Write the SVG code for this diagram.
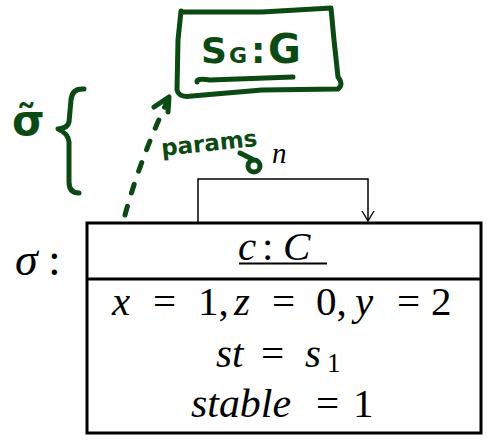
<svg xmlns="http://www.w3.org/2000/svg" width="487" height="443" viewBox="0 0 487 443">
<style>
.g{fill:none;stroke:#0b4a12;stroke-width:5;stroke-linecap:round;stroke-linejoin:round}
.gt{font-family:'DejaVu Sans','Liberation Sans',sans-serif;font-weight:bold;fill:#0b4a12}
</style>
<defs>
<marker id="ah" markerWidth="14" markerHeight="14" refX="11" refY="7" orient="auto" markerUnits="userSpaceOnUse" viewBox="0 0 14 14">
<path d="M1,1 L11,7 L1,13" fill="none" stroke="#000" stroke-width="1.4"/>
</marker>
</defs>
<rect width="487" height="443" fill="#fff"/>
<g id="object-c" font-family="Liberation Serif, serif" font-size="41" fill="#000">
<rect x="87" y="223" width="394" height="210" fill="none" stroke="#000" stroke-width="3"/>
<line x1="87" y1="279" x2="481" y2="279" stroke="#000" stroke-width="3"/>
<text y="260"><tspan x="238" font-style="italic">c</tspan><tspan x="262">:</tspan><tspan x="283" font-style="italic">C</tspan></text>
<line x1="239" y1="263.5" x2="327" y2="263.5" stroke="#000" stroke-width="2"/>
<text y="315"><tspan x="112" font-style="italic">x</tspan><tspan x="153">=</tspan><tspan x="198">1,</tspan><tspan x="234" font-style="italic">z</tspan><tspan x="272">=</tspan><tspan x="316">0,</tspan><tspan x="355" font-style="italic">y</tspan><tspan x="397">=</tspan><tspan x="431">2</tspan></text>
<text y="367"><tspan x="216" font-style="italic">st</tspan><tspan x="261">=</tspan><tspan x="305" font-style="italic">s</tspan><tspan x="327" y="372" font-size="27">1</tspan></text>
<text y="417" textLength="100" lengthAdjust="spacingAndGlyphs" x="191" font-style="italic">stable</text>
<text y="417"><tspan x="316">=</tspan><tspan x="353">1</tspan></text>
</g>
<g id="label-sigma">
<text y="275" font-family="Liberation Serif, serif" font-size="46" fill="#000"><tspan x="15" font-style="italic">σ</tspan><tspan x="48">:</tspan></text>
</g>
<g id="connectors">
<path d="M198,222 L198,179 L368,179 L368,221" fill="none" stroke="#000" stroke-width="1.5" marker-end="url(#ah)"/>
<path class="g" d="M125,215 Q140,160 166,104" stroke-dasharray="9 14"/>
<path class="g" d="M154,107 L169,97 L168,112"/>
</g>
<g id="role-n">
<text x="272" y="163" font-family="Liberation Serif, serif" font-style="italic" font-size="29" fill="#000">n</text>
<circle class="g" cx="254" cy="166" r="6"/>
<path class="g" d="M240,153 L252,159"/>
</g>
<g id="sg-box">
<path class="g" d="M181,11 L178,40 L177,90 Q179,98 192,96 L262,90 L338,89 Q344,84 338,77 L334,40 L331,8 L262,12 L181,12"/>
<text class="gt" y="63" font-size="40"><tspan x="201" font-size="36">S</tspan><tspan x="229" font-size="22">G</tspan><tspan x="251" font-size="36">:</tspan><tspan x="268">G</tspan></text>
<path class="g" d="M197,82 Q196,78 210,80 L293,77"/>
</g>
<g id="params-label">
<text class="gt" x="162" y="156" font-size="23" transform="rotate(-6 162 156)">params</text>
</g>
<g id="sigma-tilde">
<text class="gt" x="12" y="135" font-size="42">σ̃</text>
<path class="g" d="M84,89 Q72,88 71,100 L69,122 Q68,128 58,129 Q68,133 69,142 L69,182 Q69,193 79,193"/>
</g>
</svg>
